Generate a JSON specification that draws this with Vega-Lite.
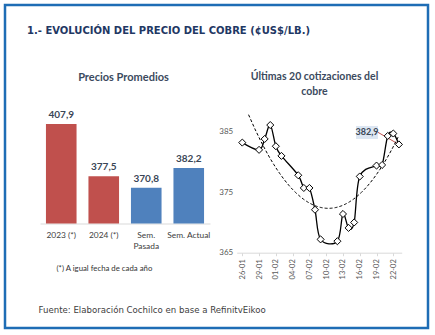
{
  "$schema": "https://vega.github.io/schema/vega-lite/v6.json",
  "width": 423,
  "height": 323,
  "autosize": {"type": "none"},
  "padding": {"left": 5, "top": 5, "right": 7, "bottom": 7},
  "background": "white",
  "title": {
    "text": "1.- EVOLUCIÓN DEL PRECIO DEL COBRE (¢US$/LB.)",
    "anchor": "start",
    "frame": "group",
    "orient": "top",
    "offset": -31,
    "dx": 22,
    "font": "DejaVu Sans",
    "fontSize": 10,
    "fontWeight": "bold",
    "color": "#1F3864"
  },
  "datasets": {
    "bars": [
      {"label": "2023 (*)", "value": 407.9, "period": "anual"},
      {"label": "2024 (*)", "value": 377.5, "period": "anual"},
      {"label": "Sem. Pasada", "value": 370.8, "period": "semanal"},
      {"label": "Sem. Actual", "value": 382.2, "period": "semanal"}
    ],
    "copper": [
      {"date": "2024-01-26", "price": 383.2},
      {"date": "2024-01-29", "price": 382.0},
      {"date": "2024-01-30", "price": 383.8},
      {"date": "2024-01-31", "price": 386.1},
      {"date": "2024-02-01", "price": 382.6},
      {"date": "2024-02-02", "price": 381.0},
      {"date": "2024-02-05", "price": 377.8},
      {"date": "2024-02-06", "price": 375.7},
      {"date": "2024-02-07", "price": 375.7},
      {"date": "2024-02-08", "price": 372.1},
      {"date": "2024-02-09", "price": 367.2},
      {"date": "2024-02-12", "price": 366.9},
      {"date": "2024-02-13", "price": 371.4},
      {"date": "2024-02-14", "price": 369.1},
      {"date": "2024-02-15", "price": 370.0},
      {"date": "2024-02-16", "price": 377.6},
      {"date": "2024-02-19", "price": 379.4},
      {"date": "2024-02-20", "price": 379.5},
      {"date": "2024-02-21", "price": 384.3},
      {"date": "2024-02-22", "price": 384.7},
      {"date": "2024-02-23", "price": 382.9}
    ]
  },
  "resolve": {
    "scale": {"x": "independent", "y": "independent"},
    "axis": {"x": "independent", "y": "independent"}
  },
  "layer": [
    {
      "data": {"name": "bars"},
      "encoding": {
        "x": {
          "field": "label",
          "type": "nominal",
          "sort": null,
          "scale": {"range": [35, 205], "paddingInner": 0.28, "paddingOuter": 0.14},
          "title": "(*) A igual fecha de cada año",
          "axis": {
            "orient": "bottom",
            "offset": -104.5,
            "domainColor": "#D9D9D9",
            "ticks": false,
            "labelAngle": 0,
            "labelPadding": 7,
            "labelFont": "Lato",
            "labelFontSize": 8.4,
            "labelColor": "#404040",
            "labelLineHeight": 11,
            "labelExpr": "datum.label == 'Sem. Pasada' ? ['Sem.', 'Pasada'] : datum.label",
            "titleX": 51,
            "titleY": 44.5,
            "titleAlign": "left",
            "titleBaseline": "middle",
            "titleFont": "Lato",
            "titleFontSize": 7.8,
            "titleFontWeight": "normal",
            "titleColor": "#333333"
          }
        },
        "y": {
          "field": "value",
          "type": "quantitative",
          "scale": {"domain": [350, 420], "range": [218.5, 98.1], "zero": false, "nice": false},
          "title": "Precios Promedios",
          "axis": {
            "orient": "left",
            "offset": 0,
            "domain": false,
            "ticks": false,
            "labels": false,
            "grid": false,
            "titleAngle": 0,
            "titleX": 118,
            "titleY": 72.5,
            "titleAlign": "center",
            "titleBaseline": "middle",
            "titleFont": "Lato",
            "titleFontSize": 11,
            "titleFontWeight": "bold",
            "titleColor": "#3B4A5E"
          }
        }
      },
      "layer": [
        {
          "mark": {"type": "bar"},
          "encoding": {
            "y2": {"datum": 350},
            "color": {
              "field": "period",
              "type": "nominal",
              "scale": {"domain": ["anual", "semanal"], "range": ["#C0504D", "#4F81BD"]},
              "legend": null
            }
          }
        },
        {
          "mark": {"type": "text", "baseline": "bottom", "dy": -4, "font": "Lato", "fontSize": 10, "fontWeight": "bold", "color": "#3A4656"},
          "encoding": {
            "text": {"field": "value", "type": "quantitative", "format": ".1f"}
          }
        }
      ]
    },
    {
      "data": {"name": "copper", "format": {"parse": {"date": "date"}}},
      "encoding": {
        "x": {
          "field": "date",
          "type": "temporal",
          "scale": {
            "type": "utc",
            "domain": [
              {"year": 2024, "month": 1, "date": 25, "utc": true},
              {"year": 2024, "month": 2, "date": 23, "hours": 12, "utc": true}
            ],
            "range": [231.7, 396.7],
            "nice": false
          },
          "title": "Fuente: Elaboración Cochilco en base a RefinitvEikoo",
          "axis": {
            "orient": "bottom",
            "offset": -75.3,
            "values": [
              {"year": 2024, "month": 1, "date": 26, "utc": true},
              {"year": 2024, "month": 1, "date": 29, "utc": true},
              {"year": 2024, "month": 2, "date": 1, "utc": true},
              {"year": 2024, "month": 2, "date": 4, "utc": true},
              {"year": 2024, "month": 2, "date": 7, "utc": true},
              {"year": 2024, "month": 2, "date": 10, "utc": true},
              {"year": 2024, "month": 2, "date": 13, "utc": true},
              {"year": 2024, "month": 2, "date": 16, "utc": true},
              {"year": 2024, "month": 2, "date": 19, "utc": true},
              {"year": 2024, "month": 2, "date": 22, "utc": true}
            ],
            "labelExpr": "utcFormat(datum.value, '%d-%m')",
            "domainColor": "#D9D9D9",
            "tickColor": "#D9D9D9",
            "tickSize": 3,
            "labelAngle": 270,
            "labelPadding": 3,
            "labelFont": "Lato",
            "labelFontSize": 7.5,
            "labelColor": "#595959",
            "grid": false,
            "titleX": 33,
            "titleY": 57,
            "titleAlign": "left",
            "titleBaseline": "middle",
            "titleFont": "DejaVu Sans",
            "titleFontSize": 8.6,
            "titleFontWeight": "normal",
            "titleColor": "#404040"
          }
        },
        "y": {
          "field": "price",
          "type": "quantitative",
          "scale": {"domain": [365, 390], "range": [247.7, 96.45], "zero": false, "nice": false},
          "title": ["Últimas 20 cotizaciones del", "cobre"],
          "axis": {
            "orient": "left",
            "offset": -231.7,
            "values": [365, 375, 385],
            "domain": false,
            "ticks": false,
            "grid": false,
            "labelPadding": 4,
            "labelFont": "Lato",
            "labelFontSize": 8,
            "labelColor": "#595959",
            "titleAngle": 0,
            "titleX": 77.3,
            "titleY": 66.5,
            "titleAlign": "center",
            "titleBaseline": "top",
            "titleLineHeight": 15,
            "titleFont": "Lato",
            "titleFontSize": 10.5,
            "titleFontWeight": "bold",
            "titleColor": "#3B4A5E"
          }
        }
      },
      "layer": [
        {
          "transform": [{"filter": "datum.price == 382.9"}],
          "mark": {"type": "rect", "color": "#DCE6F2"},
          "encoding": {
            "x": {"datum": {"year": 2024, "month": 2, "date": 15, "hours": 8, "utc": true}, "type": "temporal"},
            "x2": {"datum": {"year": 2024, "month": 2, "date": 19, "hours": 6, "utc": true}},
            "y": {"datum": 385.95, "type": "quantitative"},
            "y2": {"datum": 383.8}
          }
        },
        {
          "transform": [{"filter": "datum.price == 382.9"}],
          "mark": {"type": "rule", "color": "#C0504D", "strokeWidth": 1},
          "encoding": {
            "x": {"datum": {"year": 2024, "month": 2, "date": 19, "hours": 6, "utc": true}, "type": "temporal"},
            "y": {"datum": 384.9, "type": "quantitative"},
            "x2": {"field": "date"},
            "y2": {"field": "price"}
          }
        },
        {
          "transform": [
            {"regression": "price", "on": "date", "method": "poly", "order": 2},
            {"filter": "datum.price <= 390"}
          ],
          "mark": {"type": "line", "color": "black", "strokeWidth": 1, "strokeDash": [3, 2]},
          "encoding": {}
        },
        {
          "mark": {"type": "line", "color": "black", "strokeWidth": 1.3, "interpolate": "cardinal"},
          "encoding": {}
        },
        {
          "mark": {"type": "point", "shape": "diamond", "size": 50, "filled": true, "fill": "white", "stroke": "black", "strokeWidth": 1, "opacity": 1},
          "encoding": {}
        },
        {
          "transform": [{"filter": "datum.price == 382.9"}],
          "mark": {"type": "text", "font": "Lato", "fontSize": 9, "fontWeight": "bold", "color": "#3A4656", "baseline": "middle", "align": "center"},
          "encoding": {
            "x": {"datum": {"year": 2024, "month": 2, "date": 17, "hours": 7, "utc": true}, "type": "temporal"},
            "y": {"datum": 384.9, "type": "quantitative"},
            "text": {"field": "price", "type": "quantitative", "format": ".1f"}
          }
        }
      ]
    }
  ],
  "config": {
    "view": {"stroke": "#1E6DB5", "strokeWidth": 2.5},
    "locale": {
      "number": {"decimal": ",", "thousands": ".", "grouping": [3], "currency": ["$", ""]}
    },
    "axis": {"grid": false}
  }
}
